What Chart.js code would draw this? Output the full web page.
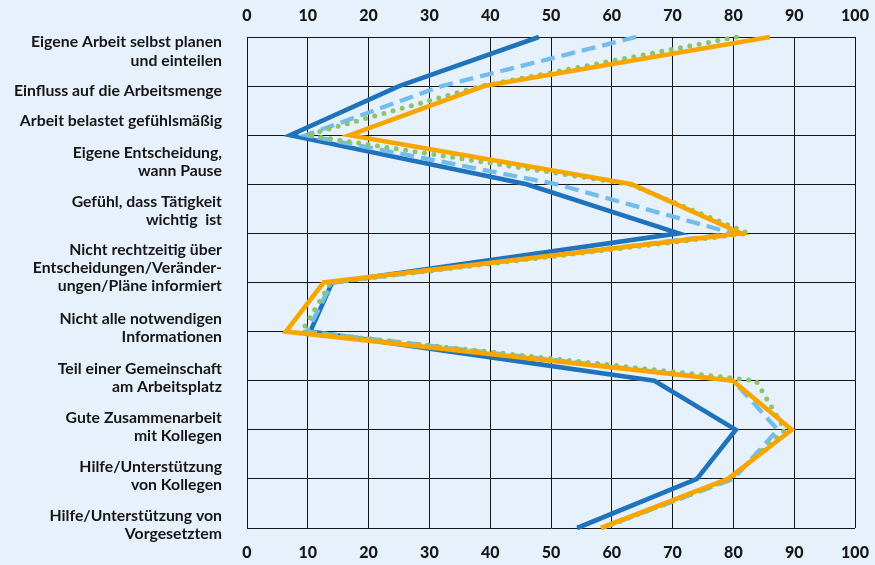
<!DOCTYPE html>
<html lang="de">
<head>
<meta charset="utf-8">
<title>Arbeitsbedingungen</title>
<script src="https://cdn.jsdelivr.net/npm/chart.js@4/dist/chart.umd.min.js"></script>
<style>
  html, body { margin: 0; padding: 0; background: #e7f1fb; }
  #wrap { width: 875px; height: 565px; }
  canvas { display: block; }
</style>
</head>
<body>
<div id="wrap"><canvas id="chart" width="875" height="565"></canvas></div>
<script>
// Aussagen (eine Zeile je Zeilenumbruch der Beschriftung)
const categories = [
  ["Eigene Arbeit selbst planen", "und einteilen"],
  ["Einfluss auf die Arbeitsmenge"],
  ["Arbeit belastet gefühlsmäßig"],
  ["Eigene Entscheidung,", "wann Pause"],
  ["Gefühl, dass Tätigkeit", "wichtig  ist"],
  ["Nicht rechtzeitig über", "Entscheidungen/Veränder-", "ungen/Pläne informiert"],
  ["Nicht alle notwendigen", "Informationen"],
  ["Teil einer Gemeinschaft", "am Arbeitsplatz"],
  ["Gute Zusammenarbeit", "mit Kollegen"],
  ["Hilfe/Unterstützung", "von Kollegen"],
  ["Hilfe/Unterstützung von", "Vorgesetztem"]
];

// Anteile in Prozent je Gruppe
const reiheA = [48, 25, 7.1, 46, 71, 14, 10.4, 67, 80.4, 74, 54.3];
const reiheB = [64, 32, 9.7, 51, 80, 14, 9.9, 80, 87.3, 80, 58.3];
const reiheC = [80.5, 38.5, 9.8, 63, 82.5, 13.8, 9, 83.7, 88.5, 79.5, 58.5];
const reiheD = [86, 39, 16.9, 63.3, 81.3, 12.6, 6.4, 79.9, 89.6, 79.1, 58.2];

// Prozentachse
const xMin = 0, xMax = 100, xStep = 10;

// vertikale Lage der Beschriftungen (in Zeilen der Kategorienachse)
const labelRows = [0.29, 1.10, 1.71, 2.55, 3.54, 4.70, 5.93, 6.94, 7.94, 8.94, 9.94];

const tickFont = { family: "Lato", weight: 900, size: 16 };
const catFont = { family: "Lato", weight: "bold", size: 15.8, lineHeight: 1.16 };
const inkColor = "#161616";
const gridColor = "#151515";

// feste Achsenmaße, ohne Randzugaben für überstehende Beschriftungen
const fixBox = (w, h) => s => {
  if (w !== null) s.width = w;
  if (h !== null) s.height = h;
  s.paddingLeft = 0; s.paddingRight = 0; s.paddingTop = 0; s.paddingBottom = 0;
};

new Chart(document.getElementById("chart"), {
  type: "line",
  data: {
    labels: categories.map(c => c.join(" ")),
    datasets: [
      {
        label: "Reihe D", data: reiheD, order: 0,
        borderColor: "#f7a600", borderWidth: 4.6
      },
      {
        label: "Reihe C", data: reiheC, order: 1,
        borderColor: "#8cc46a", borderWidth: 5,
        borderDash: [0, 9.5], borderCapStyle: "round"
      },
      {
        label: "Reihe B", data: reiheB, order: 2,
        borderColor: "#74bdea", borderWidth: 4.3,
        borderDash: [14, 7]
      },
      {
        label: "Reihe A", data: reiheA, order: 3,
        borderColor: "#1e73bc", borderWidth: 4.6
      }
    ].map(d => Object.assign({
      xAxisID: "x", yAxisID: "y",
      fill: false, tension: 0, pointRadius: 0, pointHoverRadius: 0
    }, d))
  },
  options: {
    indexAxis: "y",
    responsive: false,
    animation: false,
    events: [],
    layout: { padding: { left: 0, right: 20, top: 0, bottom: 0 } },
    plugins: { legend: { display: false }, tooltip: { enabled: false } },
    scales: {
      x: {
        type: "linear", position: "top",
        min: xMin, max: xMax,
        ticks: { stepSize: xStep, font: tickFont, color: inkColor, padding: 12, maxRotation: 0 },
        grid: { color: gridColor, lineWidth: 1, drawTicks: false },
        border: { color: gridColor, width: 1 },
        afterFit: fixBox(null, 37)
      },
      x2: {
        type: "linear", position: "bottom",
        min: xMin, max: xMax,
        ticks: { stepSize: xStep, font: tickFont, color: inkColor, padding: 15, maxRotation: 0 },
        grid: { display: false, drawTicks: false },
        border: { display: false },
        afterFit: fixBox(null, 37)
      },
      y: {
        type: "category", position: "left",
        offset: false, weight: 0,
        ticks: { display: false },
        grid: { color: gridColor, lineWidth: 1, drawTicks: false, offset: false },
        border: { color: gridColor, width: 1 },
        afterFit: fixBox(0, null)
      },
      yl: {
        type: "linear", position: "left",
        min: 0, max: categories.length - 1, reverse: true, weight: 1,
        afterBuildTicks: s => { s.ticks = labelRows.map(v => ({ value: v })); },
        ticks: {
          autoSkip: false, padding: 25, font: catFont, color: inkColor,
          callback: (v, i) => categories[i]
        },
        grid: { display: false, drawTicks: false },
        border: { display: false },
        afterFit: fixBox(247, null)
      }
    }
  }
});
</script>
</body>
</html>
